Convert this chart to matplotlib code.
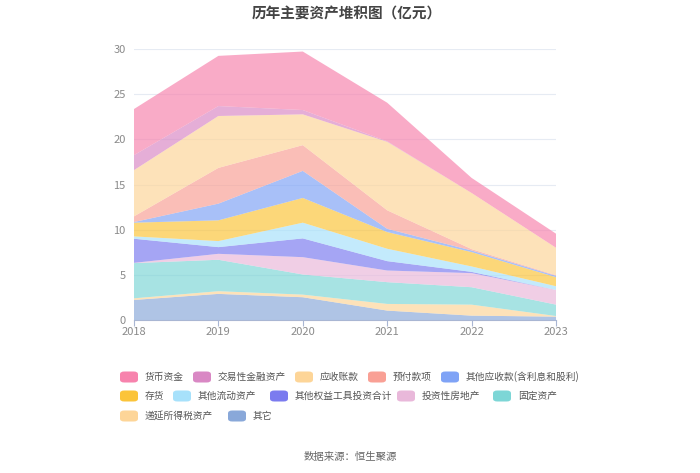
import numpy as np
import matplotlib.pyplot as plt
from matplotlib.patches import FancyBboxPatch

plt.rcParams['font.family'] = ['Noto Sans CJK SC', 'DejaVu Sans']

years = [2018, 2019, 2020, 2021, 2022, 2023]

# values in 亿元, bottom of the stack first
qita = [2.22, 2.89, 2.52, 1.04, 0.48, 0.37]
diyan = [0.18, 0.30, 0.29, 0.74, 1.22, 0.07]
guding = [3.90, 3.48, 2.23, 2.41, 1.93, 1.26]
touzi_fdc = [0.03, 0.66, 1.92, 1.29, 1.56, 1.63]
qita_quanyi = [2.67, 0.74, 2.08, 1.04, 0.14, 0.00]
qita_liudong = [0.26, 0.67, 1.74, 1.37, 0.60, 0.41]
cunhuo = [1.52, 2.30, 2.74, 1.85, 1.59, 1.00]
qita_yingshou = [0.07, 1.85, 3.00, 0.36, 0.18, 0.15]
yufu = [0.63, 3.96, 2.85, 2.05, 0.15, 0.07]
yingshou = [5.12, 5.75, 3.41, 7.59, 6.22, 3.04]
jiaoyi = [1.66, 1.10, 0.48, 0.06, 0.00, 0.00]
huobi = [5.11, 5.56, 6.48, 4.27, 1.67, 1.56]

series = [qita, diyan, guding, touzi_fdc, qita_quanyi, qita_liudong,
          cunhuo, qita_yingshou, yufu, yingshou, jiaoyi, huobi]
names = ['其它', '递延所得税资产', '固定资产', '投资性房地产', '其他权益工具投资合计',
         '其他流动资产', '存货', '其他应收款(含利息和股利)', '预付款项', '应收账款',
         '交易性金融资产', '货币资金']
colors = ['#89a8d9', '#fdd598', '#7dd6d6', '#e9b8da', '#7b7bef', '#a7e1fb',
          '#fbc43a', '#7fa3f6', '#f9a095', '#fdd598', '#d988c4', '#f783ad']

fig = plt.figure(figsize=(7, 4.73), dpi=100)
ax = fig.add_axes([0.1914, 0.3235, 0.6029, 0.5725])

ax.stackplot(years, *series, colors=colors, alpha=0.68, linewidth=0)

ax.set_xlim(2018, 2023)
ax.set_ylim(0, 30)
ax.set_yticks(range(0, 31, 5))
ax.set_xticks(years)
ax.grid(axis='y', color='#e6ebf3', linewidth=0.8)
ax.set_axisbelow(True)
for s in ['top', 'right', 'left']:
    ax.spines[s].set_visible(False)
ax.spines['bottom'].set_color('#a9b6d3')
ax.tick_params(axis='x', colors='#a9b6d3', labelcolor='#8a8a8a', labelsize=8,
               length=4, pad=1)
ax.tick_params(axis='y', length=0, labelcolor='#8a8a8a', labelsize=8, pad=6)

fig.text(0.496, 0.972, '历年主要资产堆积图（亿元）', ha='center', va='center',
         fontsize=10.5, fontweight='bold', color='#444444')

# legend laid out row by row like the original
legend_rows = [
    [('货币资金', 11, 120), ('交易性金融资产', 10, 193), ('应收账款', 9, 295),
     ('预付款项', 8, 368), ('其他应收款(含利息和股利)', 7, 441)],
    [('存货', 6, 120), ('其他流动资产', 5, 173), ('其他权益工具投资合计', 4, 270),
     ('投资性房地产', 3, 397), ('固定资产', 2, 493)],
    [('递延所得税资产', 1, 120), ('其它', 0, 228)],
]
row_y = [377, 396, 416]
W, H = 700, 473
for row, y in zip(legend_rows, row_y):
    for label, idx, x in row:
        p = FancyBboxPatch(((x) / W, 1 - (y + 5.5) / H), 18 / W, 11 / H,
                           boxstyle='round,pad=0,rounding_size=0.006',
                           transform=fig.transFigure, facecolor=colors[idx],
                           edgecolor='none')
        fig.patches.append(p)
        fig.text((x + 25) / W, 1 - y / H, label, ha='left', va='center',
                 fontsize=7, color='#555555')

fig.text(0.5, 1 - 457 / H, '数据来源：恒生聚源', ha='center', va='center',
         fontsize=7.5, color='#666666')

fig.savefig('out.png', dpi=100)
